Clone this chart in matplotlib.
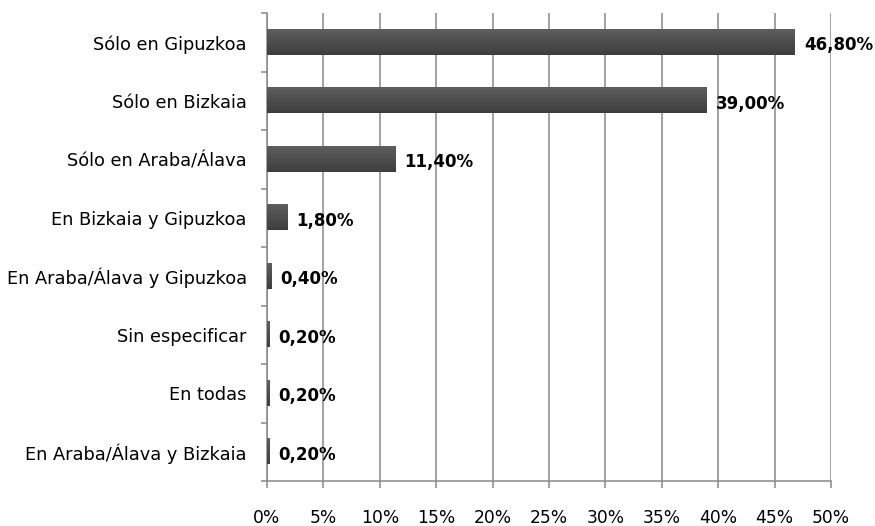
import numpy as np
import matplotlib.pyplot as plt
from matplotlib.ticker import FixedLocator, FuncFormatter
from matplotlib.colors import LinearSegmentedColormap

# datos (de arriba a abajo)
categorias = ['Sólo en Gipuzkoa', 'Sólo en Bizkaia', 'Sólo en Araba/Álava',
              'En Bizkaia y Gipuzkoa', 'En Araba/Álava y Gipuzkoa',
              'Sin especificar', 'En todas', 'En Araba/Álava y Bizkaia']
valores = [46.8, 39.0, 11.4, 1.8, 0.4, 0.2, 0.2, 0.2]
etiquetas = ['46,80%', '39,00%', '11,40%', '1,80%', '0,40%', '0,20%', '0,20%', '0,20%']
ticks_x = [0, 5, 10, 15, 20, 25, 30, 35, 40, 45, 50]

plt.rcParams['font.family'] = ['DejaVu Sans']
plt.rcParams['font.size'] = 12

fig = plt.figure(figsize=(8.75, 5.26), dpi=100)
ax = fig.add_axes([267/875, 1-481/526, (831-267)/875, (481-13)/526])

n = len(categorias)
y = np.arange(n)[::-1]
alto = 0.43

# gradiente vertical para las barras
grad = np.linspace(0, 1, 64).reshape(-1, 1)
cmap_bar = LinearSegmentedColormap.from_list('bar', ['#5e5e5e', '#3e3e3e'])

for yi, v, lab in zip(y, valores, etiquetas):
    ax.imshow(grad, extent=[0, v, yi - alto/2, yi + alto/2], aspect='auto',
              cmap=cmap_bar, origin='upper', zorder=3, interpolation='bilinear')
    ax.text(v + 0.8, yi - 0.05, lab, va='center', ha='left', fontweight='bold',
            fontsize=12, color='black', zorder=4)

ax.set_xlim(0, 50)
ax.set_ylim(-0.5, n - 0.5)

ax.xaxis.set_major_locator(FixedLocator(ticks_x))
ax.xaxis.set_major_formatter(FuncFormatter(lambda v, p: f'{int(v)}%'))
ax.grid(axis='x', color='#888888', linewidth=1.1, zorder=0)
ax.set_axisbelow(True)

ax.set_yticks(y)
ax.set_yticklabels(categorias)
ax.yaxis.set_minor_locator(FixedLocator(np.arange(-0.5, n, 1)))
ax.tick_params(axis='y', which='major', length=0, pad=14.5, labelsize=12.8)
ax.tick_params(axis='y', which='minor', length=4.5, width=1.1, color='#888888')
ax.tick_params(axis='x', length=5, width=1.1, color='#888888', pad=15, labelsize=12.3)

for s in ['top', 'right']:
    ax.spines[s].set_visible(False)
for s in ['left', 'bottom']:
    ax.spines[s].set_color('#888888')
    ax.spines[s].set_linewidth(1.1)

fig.savefig('out.png', dpi=100)
